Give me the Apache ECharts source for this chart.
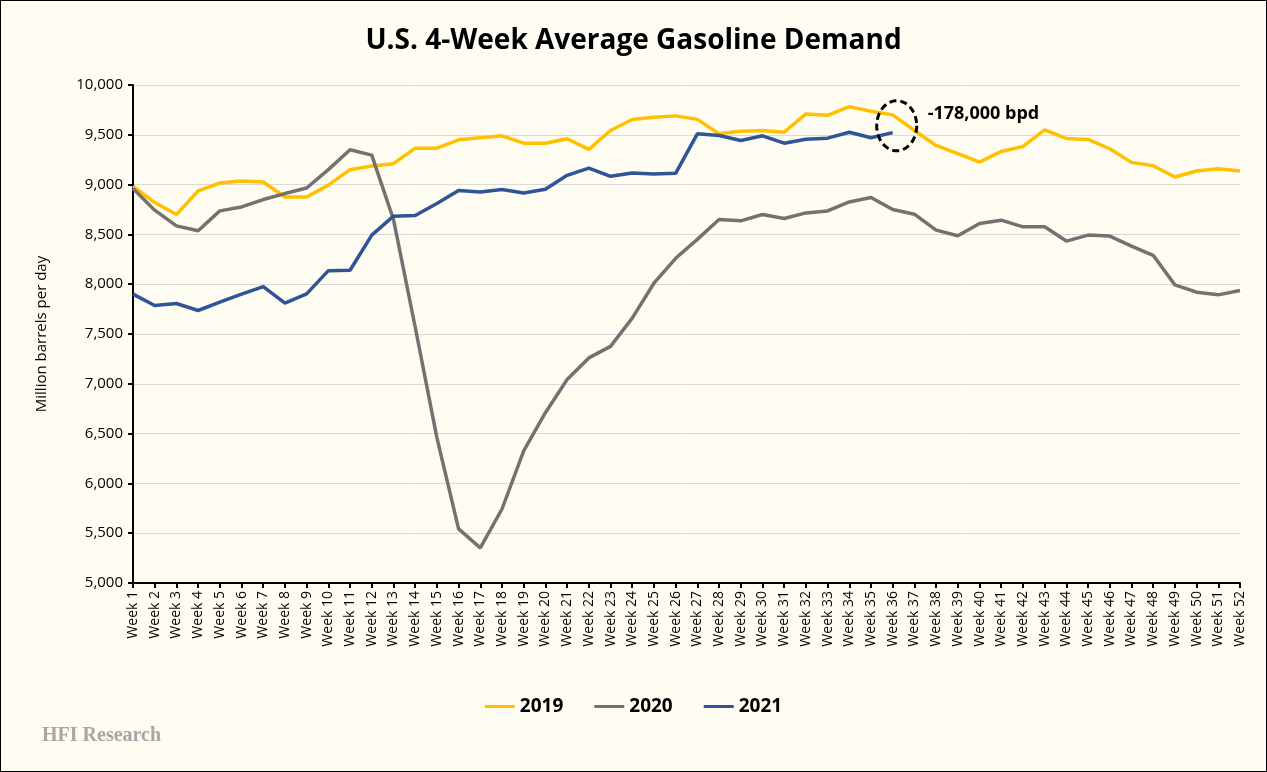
<!DOCTYPE html>
<html>
<head>
<meta charset="utf-8">
<script src="https://cdn.jsdelivr.net/npm/echarts@6/dist/echarts.min.js"></script>
<style>
  html, body { margin: 0; padding: 0; background: #FFFDF2; }
  #frame { position: absolute; left: 0; top: 0; width: 1265px; height: 770px; border: 1px solid #000; }
  #chart { width: 1267px; height: 772px; }
</style>
</head>
<body>
<div id="chart"></div>
<div id="frame"></div>
<script>
const weeks = [];
for (let i = 1; i <= 52; i++) weeks.push('Week ' + i);

const yTicks = [5000, 5500, 6000, 6500, 7000, 7500, 8000, 8500, 9000, 9500, 10000];

const s2019 = [8985, 8820, 8700, 8936, 9016, 9036, 9026, 8876, 8876, 8995,
               9150, 9186, 9210, 9366, 9366, 9450, 9470, 9490, 9416, 9416,
               9460, 9353, 9543, 9653, 9676, 9690, 9655, 9510, 9536, 9543,
               9526, 9710, 9696, 9783, 9736, 9700, 9543, 9393, 9310, 9226,
               9333, 9383, 9550, 9463, 9453, 9360, 9223, 9190, 9076, 9136,
               9160, 9136];
const s2020 = [8960, 8743, 8586, 8536, 8736, 8776, 8850, 8910, 8966, 9150,
               9350, 9296, 8650, 7570, 6460, 5543, 5353, 5743, 6326, 6710,
               7043, 7260, 7376, 7660, 8010, 8260, 8450, 8650, 8636, 8700,
               8660, 8716, 8736, 8826, 8870, 8750, 8703, 8543, 8486, 8610,
               8643, 8576, 8576, 8433, 8493, 8483, 8383, 8290, 7993, 7920,
               7893, 7936];
const s2021 = [7900, 7786, 7806, 7736, 7820, 7900, 7976, 7810, 7903, 8136,
               8140, 8493, 8683, 8690, 8810, 8940, 8926, 8950, 8916, 8953,
               9093, 9166, 9083, 9116, 9106, 9113, 9510, 9493, 9443, 9490,
               9416, 9456, 9466, 9526, 9470, 9522];

const annoWeekIndex = 35;
const annoText = '-178,000 bpd';

const chart = echarts.init(document.getElementById('chart'), null, { renderer: 'canvas' });

const fontMain = '"Open Sans", "Noto Sans", sans-serif';

const option = {
  backgroundColor: '#FFFDF2',
  animation: false,
  title: {
    text: 'U.S. 4-Week Average Gasoline Demand',
    left: 'center',
    top: 22,
    textStyle: { fontFamily: fontMain, fontWeight: 'bold', fontSize: 28, color: '#000' }
  },
  legend: {
    data: ['2019', '2020', '2021'],
    left: 'center',
    top: 692,
    itemWidth: 30,
    itemHeight: 3,
    itemGap: 31,
    icon: 'rect',
    textStyle: { fontFamily: fontMain, fontWeight: 'bold', fontSize: 19, color: '#000' }
  },
  grid: { left: 133, right: 27, top: 85, bottom: 189, containLabel: false },
  xAxis: {
    type: 'category',
    data: weeks,
    boundaryGap: false,
    axisLine: { lineStyle: { color: '#000', width: 2 } },
    axisTick: { show: true, interval: 0, length: 5, lineStyle: { color: '#000', width: 2 } },
    axisLabel: {
      interval: 0, rotate: 90, fontFamily: fontMain, fontSize: 14, color: '#000', margin: 8
    },
    splitLine: { show: false }
  },
  yAxis: {
    type: 'value',
    min: yTicks[0],
    max: yTicks[yTicks.length - 1],
    interval: 500,
    name: 'Million barrels per day',
    nameLocation: 'middle',
    nameGap: 84,
    nameRotate: 90,
    nameTextStyle: { fontFamily: fontMain, fontSize: 15, color: '#000' },
    axisLine: { show: true, lineStyle: { color: '#000', width: 2 } },
    axisTick: { show: true, length: 5, lineStyle: { color: '#000', width: 2 } },
    axisLabel: {
      fontFamily: fontMain, fontSize: 15, color: '#000', margin: 10,
      formatter: v => v.toLocaleString('en-US')
    },
    splitLine: { lineStyle: { color: '#D9D9D9', width: 1 } }
  },
  series: [
    { name: '2019', type: 'line', data: s2019, symbol: 'none', color: '#FFC000',
      lineStyle: { width: 3.5, color: '#FFC000' }, z: 2 },
    { name: '2020', type: 'line', data: s2020, symbol: 'none', color: '#767171',
      lineStyle: { width: 3.5, color: '#767171' }, z: 2 },
    { name: '2021', type: 'line', data: s2021, symbol: 'none', color: '#2F5597',
      lineStyle: { width: 3.5, color: '#2F5597' }, z: 3 }
  ]
};
chart.setOption(option);

// annotation: dashed ellipse around the week 36 gap, and its label
const p1 = chart.convertToPixel({ seriesIndex: 0 }, [annoWeekIndex, s2019[annoWeekIndex]]);
const p2 = chart.convertToPixel({ seriesIndex: 2 }, [annoWeekIndex, s2021[annoWeekIndex]]);
const cx = p1[0] + 4;
const cy = (p1[1] + p2[1]) / 2 + 2;
const rx = 20, ry = 25;
const pts = [];
for (let k = 0; k <= 72; k++) {
  const t = (k / 72) * Math.PI * 2;
  pts.push([cx + rx * Math.cos(t), cy + ry * Math.sin(t)]);
}
chart.setOption({
  graphic: [
    { type: 'polyline', z: 100, shape: { points: pts },
      style: { stroke: '#000', lineWidth: 3, lineDash: [7, 4], fill: null } },
    { type: 'text', z: 100, left: cx + 31, top: cy - 21,
      style: { text: annoText, fontFamily: fontMain, fontWeight: 'bold', fontSize: 18, fill: '#000' } },
    { type: 'text', z: 100, left: 42, top: 726,
      style: { text: 'HFI Research', fontFamily: '"Liberation Serif", "DejaVu Serif", serif', fontWeight: 'bold', fontSize: 20, fill: '#A6A6A6' } }
  ]
});
</script>
</body>
</html>
